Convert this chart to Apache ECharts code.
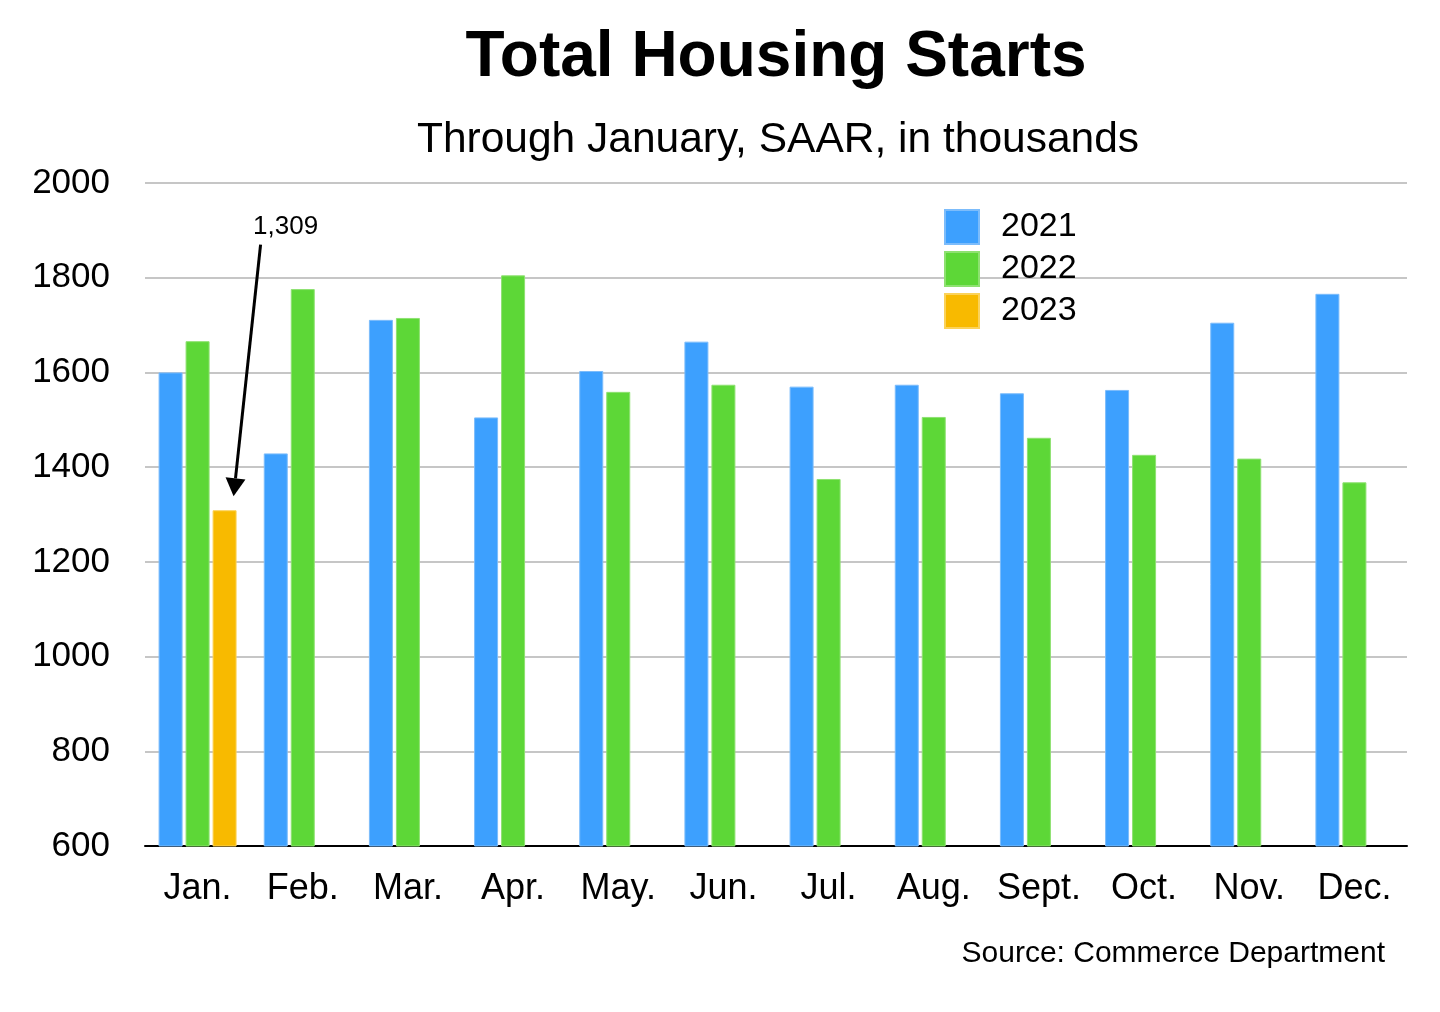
<!DOCTYPE html>
<html>
<head>
<meta charset="utf-8">
<script src="https://cdn.jsdelivr.net/npm/echarts@6/dist/echarts.min.js"></script>
<style>
html,body{margin:0;padding:0;background:#fff;}
#chart{width:1440px;height:1012px;}
</style>
</head>
<body>
<div id="chart"></div>
<script>
const months = ['Jan.','Feb.','Mar.','Apr.','May.','Jun.','Jul.','Aug.','Sept.','Oct.','Nov.','Dec.'];
const starts2021 = [1600,1429,1711,1505,1603,1665,1570,1574,1556,1563,1705,1766];
const starts2022 = [1666,1776,1715,1805,1559,1574,1375,1506,1462,1426,1418,1368];
const starts2023 = [1309,null,null,null,null,null,null,null,null,null,null,null];
const yTicks = {min:600, max:2000, interval:200};
const annotationText = '1,309';

const FONT = 'Liberation Sans, Arial, Helvetica, sans-serif';
const chart = echarts.init(document.getElementById('chart'), null, {renderer:'canvas'});

const barCommon = {type:'bar', barWidth:24, barGap:'12.5%'};

chart.setOption({
  animation:false,
  backgroundColor:'#fff',
  textStyle:{fontFamily:FONT},
  title:[
    {text:'Total Housing Starts', left:771, top:21, textAlign:'center',
     textStyle:{fontFamily:FONT, fontSize:64, fontWeight:'bold', color:'#000'}},
    {text:'Through January, SAAR, in thousands', left:773, top:114, textAlign:'center',
     textStyle:{fontFamily:FONT, fontSize:42.5, fontWeight:'normal', color:'#000'}},
    {text:'Source: Commerce Department', right:50, top:934,
     textStyle:{fontFamily:FONT, fontSize:30, fontWeight:'normal', color:'#000'}}
  ],
  legend:{orient:'vertical', left:944, top:209, padding:0, itemWidth:34, itemHeight:34, itemGap:6,
    icon:'rect', data:['2021','2022','2023'],
    textStyle:{fontFamily:FONT, fontSize:34, color:'#000', padding:[3,0,0,17]}},
  grid:{left:145, right:33, top:183, bottom:166},
  xAxis:{type:'category', data:months,
    axisLine:{lineStyle:{color:'#000', width:2}},
    axisTick:{show:false},
    axisLabel:{interval:0, hideOverlap:false, fontFamily:FONT, fontSize:36, color:'#000', margin:25}},
  yAxis:{type:'value', min:yTicks.min, max:yTicks.max, interval:yTicks.interval,
    axisLine:{show:false}, axisTick:{show:false},
    splitLine:{lineStyle:{color:'#c6c6c6', width:2}},
    axisLabel:{fontFamily:FONT, fontSize:35, color:'#000', margin:35,
      formatter:function(v){return String(v);}}},
  series:[
    Object.assign({}, barCommon, {name:'2021', data:starts2021,
      itemStyle:{color:'#3DA0FE', borderColor:'#7cbcfb', borderWidth:1}}),
    Object.assign({}, barCommon, {name:'2022', data:starts2022,
      itemStyle:{color:'#5DD737', borderColor:'#8ee171', borderWidth:1}}),
    Object.assign({}, barCommon, {name:'2023', data:starts2023,
      itemStyle:{color:'#F8BA00', borderColor:'#fbd25a', borderWidth:1}})
  ]
});

// Annotation arrow anchored to the Jan 2023 bar via the chart's own scales
const base = chart.convertToPixel({xAxisIndex:0, yAxisIndex:0}, [0, starts2023[0]]);
const barX = base[0] + 27; // offset of third bar in group
const tipX = barX + 9, tipY = base[1] - 14;
const startY = chart.convertToPixel({yAxisIndex:0}, 1870);
const startX = barX + 36;
const dx = startX - tipX, dy = startY - tipY;
const len = Math.sqrt(dx*dx + dy*dy);
const ux = dx/len, uy = dy/len;
const hl = 18, hw = 10;
const bx = tipX + ux*hl, by = tipY + uy*hl;
chart.setOption({
  graphic:[
    {type:'line', shape:{x1:startX, y1:startY, x2:bx, y2:by},
     style:{stroke:'#000', lineWidth:3}},
    {type:'polygon', shape:{points:[[tipX,tipY],[bx - uy*hw, by + ux*hw],[bx + uy*hw, by - ux*hw]]},
     style:{fill:'#000'}},
    {type:'text', x:startX + 25, y:startY - 18,
     style:{text:annotationText, fontFamily:FONT, fontSize:26, fill:'#000', align:'center', verticalAlign:'middle'}}
  ]
});
</script>
</body>
</html>
